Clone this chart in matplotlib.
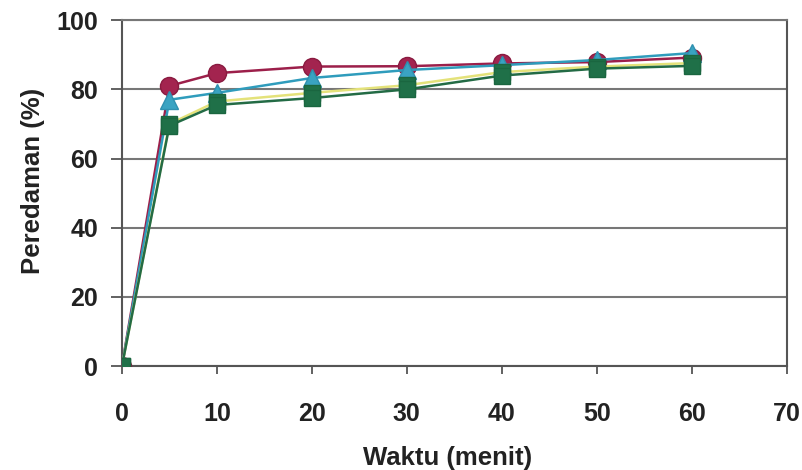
import matplotlib.pyplot as plt

# waktu (menit) and peredaman (%)
waktu = [0, 5, 10, 20, 30, 40, 50, 60]
merah = [0, 81, 84.7, 86.6, 86.7, 87.5, 87.9, 89.2]
biru = [0, 77, 79, 83.3, 85.6, 87, 88.5, 90.5]
kuning = [0, 70, 76.5, 79, 81.2, 85, 86.6, 87.6]
hijau = [0, 69.5, 75.5, 77.5, 80, 84, 86, 86.8]

xticks = [0, 10, 20, 30, 40, 50, 60, 70]
yticks = [0, 20, 40, 60, 80, 100]

plt.rcParams['font.family'] = ['Liberation Sans', 'DejaVu Sans']

fig = plt.figure(figsize=(8.02, 4.70), dpi=100)
ax = fig.add_axes([0.152, 0.221, 0.829, 0.736])

ax.plot(waktu, merah, color='#9c1f4a', lw=1.8, marker='o', ms=13,
        markerfacecolor='#a3244f', markeredgecolor='#8a1a40', zorder=3)
ax.plot(waktu, biru, color='#2f9cbc', lw=1.8, marker='^', ms=13,
        markerfacecolor='#3aa3c2', markeredgecolor='#2f90b0', zorder=4)
ax.plot(waktu, kuning, color='#e4e27a', lw=1.8, marker='s', ms=11,
        markerfacecolor='#1f7048', markeredgecolor='#1a6640', zorder=5)
ax.plot(waktu, hijau, color='#236b45', lw=1.8, marker='s', ms=11,
        markerfacecolor='#1f7048', markeredgecolor='#1a6640', zorder=6)

ax.set_xlim(0, 70)
ax.set_ylim(0, 100)
ax.set_xticks(xticks)
ax.set_yticks(yticks)
ax.yaxis.grid(True, color='#777777', lw=1.5)
ax.set_axisbelow(True)
for s in ax.spines.values():
    s.set_color('#555555')
    s.set_linewidth(1.5)
ax.spines['top'].set_color('#777777')

ax.tick_params(axis='x', direction='out', length=6, width=1.3, color='#555555',
               pad=20, labelsize=18, labelcolor='#222222')
ax.tick_params(axis='y', direction='out', length=8, width=1.3, color='#555555',
               pad=9, labelsize=18, labelcolor='#222222')
for lab in ax.get_xticklabels() + ax.get_yticklabels():
    lab.set_fontweight('bold')

ax.set_xlabel('Waktu (menit)', fontsize=18.5, fontweight='bold', color='#222222')
ax.set_ylabel('Peredaman (%)', fontsize=18.5, fontweight='bold', color='#222222')
ax.xaxis.set_label_coords(0.49, -0.23)
ax.yaxis.set_label_coords(-0.116, 0.535)

plt.savefig('out.png', dpi=100)
